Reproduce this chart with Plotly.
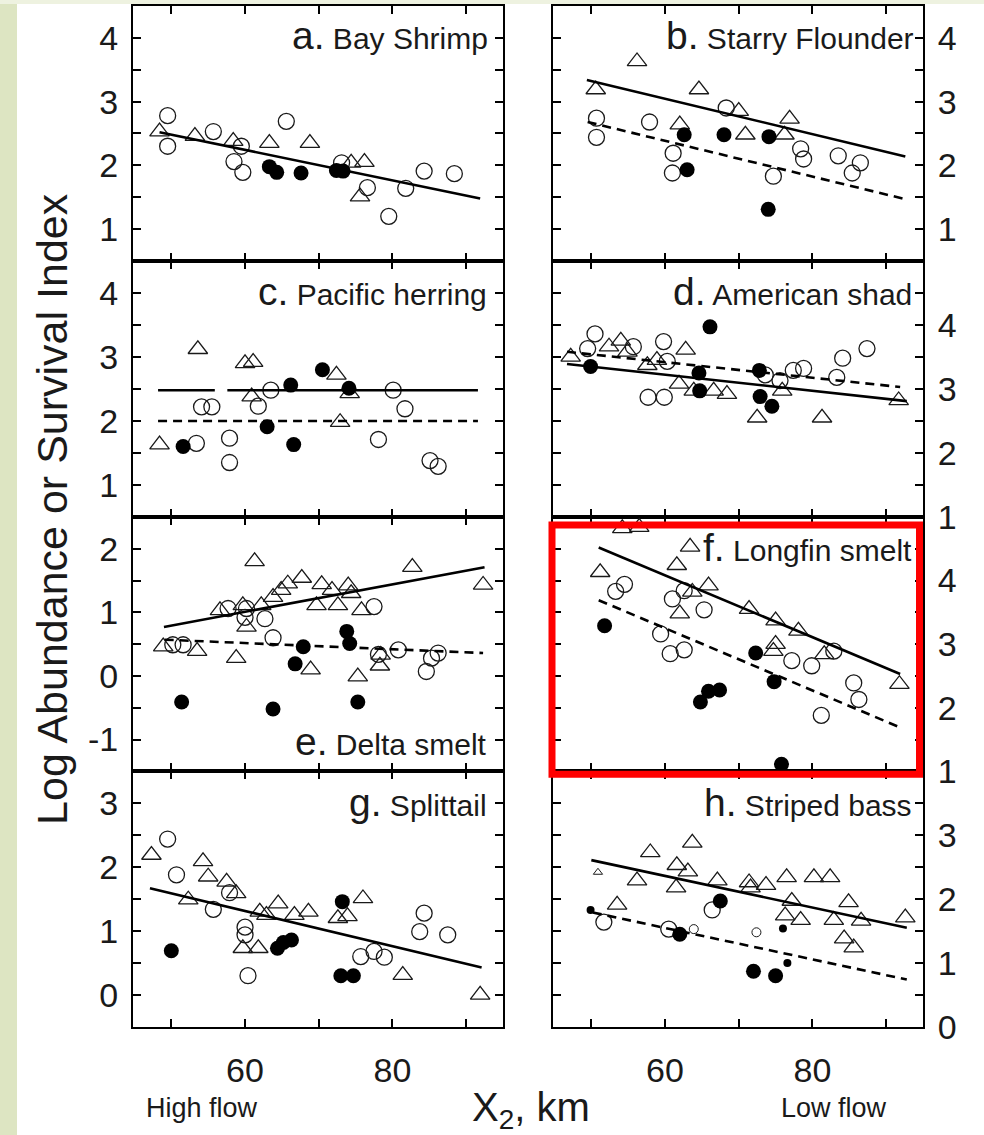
import plotly.graph_objects as go

W, H = 984, 1135          # reference frame (all positions below are reference pixels)
H_LAYOUT = 1156           # figure height so the photographed page maps onto the reference frame
FONT = "Liberation Sans, Arial, Helvetica, sans-serif"
INK = "#1a1a1a"

# ---------------- data (X2 km, log abundance / survival index) ----------------
# a. Bay Shrimp
a_open_x = [49.5, 49.5, 55.7, 58.5, 59.5, 59.7, 65.6, 73.1, 76.6, 79.5, 81.8, 84.3, 88.4]
a_open_y = [2.78, 2.30, 2.53, 2.06, 2.30, 1.89, 2.69, 2.04, 1.65, 1.20, 1.64, 1.91, 1.87]
a_tri_x = [48.4, 53.2, 58.4, 63.3, 68.8, 74.4, 76.2, 75.6]
a_tri_y = [2.53, 2.46, 2.38, 2.35, 2.35, 2.04, 2.05, 1.51]
a_fill_x = [63.3, 64.3, 67.6, 72.4, 73.3]
a_fill_y = [1.98, 1.89, 1.88, 1.92, 1.91]
a_solid_x = [48.4, 91.9]
a_solid_y = [2.52, 1.48]

# b. Starry Flounder
b_open_x = [50.7, 50.7, 57.9, 61.1, 61.0, 68.3, 74.7, 78.4, 78.8, 83.5, 85.4, 86.5]
b_open_y = [2.74, 2.44, 2.68, 2.19, 1.88, 2.90, 1.83, 2.26, 2.10, 2.15, 1.88, 2.04]
b_tri_x = [50.6, 56.2, 64.6, 62.0, 70.0, 70.9, 76.2, 76.9]
b_tri_y = [3.19, 3.63, 3.19, 2.64, 2.85, 2.48, 2.48, 2.73]
b_fill_x = [62.6, 63.0, 68.0, 74.1, 74.0]
b_fill_y = [2.48, 1.93, 2.48, 2.45, 1.31]
b_solid_x = [49.4, 92.6]
b_solid_y = [3.34, 2.14]
b_dash_x = [49.5, 92.6]
b_dash_y = [2.68, 1.47]

# c. Pacific herring
c_open_x = [54.1, 55.5, 53.4, 57.9, 57.9, 61.8, 63.5, 80.1, 81.7, 78.1, 85.1, 86.2]
c_open_y = [2.22, 2.22, 1.65, 1.73, 1.35, 2.23, 2.48, 2.48, 2.19, 1.71, 1.38, 1.29]
c_tri_x = [48.4, 53.6, 60.0, 61.1, 60.9, 72.4, 74.2, 72.9]
c_tri_y = [1.63, 3.12, 2.90, 2.92, 2.38, 2.72, 2.43, 1.98]
c_fill_x = [51.6, 63.0, 66.2, 66.6, 70.5, 74.1]
c_fill_y = [1.60, 1.91, 2.56, 1.63, 2.80, 2.51]
c_solid_x = [48.2, 55.9, None, 57.6, 91.6]
c_solid_y = [2.48, 2.48, None, 2.48, 2.48]
c_dash_x = [48.2, 91.6]
c_dash_y = [2.0, 2.0]

# d. American shad
d_open_x = [50.5, 49.5, 55.7, 59.8, 60.3, 57.7, 59.9, 77.4, 78.8, 73.6, 75.6, 83.3, 84.1, 87.4]
d_open_y = [3.86, 3.63, 3.66, 3.74, 3.43, 2.87, 2.87, 3.29, 3.32, 3.22, 3.13, 3.18, 3.48, 3.63]
d_tri_x = [47.2, 52.4, 54.0, 54.9, 57.6, 58.9, 62.8, 61.9, 63.9, 66.6, 68.4, 72.5, 75.9, 81.3, 91.7]
d_tri_y = [3.50, 3.66, 3.75, 3.58, 3.37, 3.45, 3.61, 3.08, 2.97, 2.97, 2.92, 2.55, 2.97, 2.55, 2.82]
d_fill_x = [49.9, 66.1, 64.6, 64.7, 72.8, 72.9, 74.5]
d_fill_y = [3.35, 3.97, 3.25, 2.97, 3.29, 2.88, 2.73]
d_solid_x = [46.7, 92.8]
d_solid_y = [3.39, 2.81]
d_dash_x = [46.7, 91.9]
d_dash_y = [3.58, 3.03]

# e. Delta smelt
e_open_x = [50.2, 51.6, 57.7, 60.2, 60.0, 62.7, 63.8, 77.5, 78.1, 80.8, 84.6, 85.3, 86.2]
e_open_y = [0.49, 0.49, 1.06, 1.06, 0.92, 0.90, 0.60, 1.09, 0.34, 0.41, 0.07, 0.28, 0.36]
e_tri_x = [48.9, 53.5, 56.6, 59.7, 60.2, 61.3, 62.2, 63.8, 64.9, 65.8, 67.7, 70.4, 69.7,
           71.8, 72.6, 74.0, 74.4, 75.8, 58.8, 68.9, 75.3, 78.3, 78.4, 82.7, 92.3]
e_tri_y = [0.46, 0.39, 1.03, 1.11, 0.77, 1.80, 1.11, 1.24, 1.35, 1.45, 1.54, 1.44, 1.11,
           1.35, 1.11, 1.42, 1.30, 1.03, 0.28, 0.10, -0.01, 0.16, 0.33, 1.71, 1.43]
e_fill_x = [51.4, 63.8, 66.8, 67.9, 73.8, 74.2, 75.3]
e_fill_y = [-0.41, -0.52, 0.19, 0.46, 0.70, 0.51, -0.41]
e_solid_x = [49.0, 92.5]
e_solid_y = [0.77, 1.71]
e_dash_x = [49.1, 92.3]
e_dash_y = [0.57, 0.36]

# f. Longfin smelt
f_open_x = [53.3, 54.5, 61.0, 62.6, 65.3, 59.4, 60.7, 62.6, 77.2, 79.9, 82.9, 85.6, 86.3, 81.2]
f_open_y = [3.83, 3.94, 3.71, 3.84, 3.54, 3.16, 2.85, 2.91, 2.74, 2.66, 2.89, 2.39, 2.13, 1.88]
f_tri_x = [51.2, 54.2, 56.5, 63.4, 61.6, 63.7, 65.9, 62.0, 71.4, 75.0, 78.1, 75.0, 74.7, 81.6, 91.8]
f_tri_y = [4.13, 4.82, 4.84, 4.53, 4.24, 3.82, 3.92, 3.48, 3.55, 3.37, 3.21, 3.00, 2.89, 2.84, 2.37]
f_fill_x = [51.8, 64.8, 65.9, 67.4, 72.3, 74.8, 75.8]
f_fill_y = [3.29, 2.09, 2.26, 2.28, 2.86, 2.41, 1.11]
f_solid_x = [51.0, 91.9]
f_solid_y = [4.52, 2.53]
f_dash_x = [51.0, 91.9]
f_dash_y = [3.69, 1.69]

# g. Splittail
g_open_x = [49.5, 50.7, 55.7, 57.9, 60.0, 60.0, 60.4, 75.7, 77.5, 78.9, 83.7, 84.3, 87.5]
g_open_y = [2.44, 1.88, 1.34, 1.60, 1.06, 0.94, 0.30, 0.60, 0.68, 0.59, 0.99, 1.28, 0.94]
g_tri_x = [47.3, 54.3, 55.0, 57.5, 58.8, 52.3, 59.7, 61.8, 62.0, 62.9, 64.5, 66.7, 68.6,
           72.6, 73.9, 76.0, 81.4, 91.9]
g_tri_y = [2.19, 2.09, 1.85, 1.77, 1.59, 1.49, 0.73, 0.73, 1.30, 1.25, 1.43, 1.25, 1.30,
           1.20, 1.23, 1.51, 0.31, 0.00]
g_fill_x = [50.0, 64.4, 65.2, 66.3, 73.2, 73.0, 74.7]
g_fill_y = [0.69, 0.73, 0.82, 0.86, 1.46, 0.30, 0.30]
g_solid_x = [47.1, 92.1]
g_solid_y = [1.67, 0.43]

# h. Striped bass
h_open_x = [51.7, 60.5, 66.4]
h_open_y = [1.64, 1.53, 1.83]
h_small_open_x = [63.9, 72.4]
h_small_open_y = [1.53, 1.48]
h_tri_x = [53.5, 56.2, 58.0, 63.7, 61.6, 63.1, 61.5, 67.1, 71.4, 71.6, 73.7, 76.5, 77.2,
           76.3, 78.4, 80.2, 82.4, 84.9, 82.9, 84.3, 85.6, 86.6, 92.6]
h_tri_y = [1.91, 2.29, 2.73, 2.88, 2.53, 2.43, 2.18, 2.29, 2.26, 2.18, 2.22, 2.34, 1.97,
           1.74, 1.67, 2.34, 2.34, 1.95, 1.67, 1.38, 1.24, 1.66, 1.71]
h_small_tri_x = [50.9]
h_small_tri_y = [2.42]
h_fill_x = [62.0, 67.5, 72.0, 75.0]
h_fill_y = [1.45, 1.97, 0.87, 0.80]
h_small_fill_x = [49.9, 76.0, 76.6]
h_small_fill_y = [1.83, 1.54, 1.00]
h_solid_x = [50.0, 92.8]
h_solid_y = [2.61, 1.55]
h_dash_x = [50.2, 92.8]
h_dash_y = [1.79, 0.74]

panel_names = ["Bay Shrimp", "Starry Flounder", "Pacific herring", "American shad",
               "Delta smelt", "Longfin smelt", "Splittail", "Striped bass"]
panel_letters = ["a.", "b.", "c.", "d.", "e.", "f.", "g.", "h."]
y_ranges = [[0.5, 4.5], [0.5, 4.5], [0.5, 4.5], [1, 5],
            [-1.5, 2.5], [1, 5], [-0.5, 3.5], [0, 4]]
x_range = [44.8, 95.0]
x_tick_vals = [50, 60, 70, 80, 90]
x_tick_text = ["", "60", "", "80", ""]

# ---------------- layout helpers ----------------
def px_x(p):
    return p / W

def px_y(p):
    return 1 - p / H

col_px = [(133, 503), (553, 923)]
row_px = [(6, 260.5), (260.5, 516), (516, 770), (770, 1025)]

fig = go.Figure()

data = {
    "a": dict(open=(a_open_x, a_open_y), tri=(a_tri_x, a_tri_y), fill=(a_fill_x, a_fill_y),
              solid=(a_solid_x, a_solid_y)),
    "b": dict(open=(b_open_x, b_open_y), tri=(b_tri_x, b_tri_y), fill=(b_fill_x, b_fill_y),
              solid=(b_solid_x, b_solid_y), dash=(b_dash_x, b_dash_y)),
    "c": dict(open=(c_open_x, c_open_y), tri=(c_tri_x, c_tri_y), fill=(c_fill_x, c_fill_y),
              solid=(c_solid_x, c_solid_y), dash=(c_dash_x, c_dash_y)),
    "d": dict(open=(d_open_x, d_open_y), tri=(d_tri_x, d_tri_y), fill=(d_fill_x, d_fill_y),
              solid=(d_solid_x, d_solid_y), dash=(d_dash_x, d_dash_y)),
    "e": dict(open=(e_open_x, e_open_y), tri=(e_tri_x, e_tri_y), fill=(e_fill_x, e_fill_y),
              solid=(e_solid_x, e_solid_y), dash=(e_dash_x, e_dash_y)),
    "f": dict(open=(f_open_x, f_open_y), tri=(f_tri_x, f_tri_y), fill=(f_fill_x, f_fill_y),
              solid=(f_solid_x, f_solid_y), dash=(f_dash_x, f_dash_y)),
    "g": dict(open=(g_open_x, g_open_y), tri=(g_tri_x, g_tri_y), fill=(g_fill_x, g_fill_y),
              solid=(g_solid_x, g_solid_y)),
    "h": dict(open=(h_open_x, h_open_y), tri=(h_tri_x, h_tri_y), fill=(h_fill_x, h_fill_y),
              solid=(h_solid_x, h_solid_y), dash=(h_dash_x, h_dash_y),
              small_open=(h_small_open_x, h_small_open_y),
              small_tri=(h_small_tri_x, h_small_tri_y),
              small_fill=(h_small_fill_x, h_small_fill_y)),
}

keys = ["a", "b", "c", "d", "e", "f", "g", "h"]
annotations = []

for i, k in enumerate(keys):
    n = i + 1
    row, col = i // 2, i % 2
    xa = "x" if n == 1 else f"x{n}"
    ya = "y" if n == 1 else f"y{n}"
    d = data[k]

    def add(xy, **kw):
        fig.add_trace(go.Scatter(x=xy[0], y=xy[1], xaxis=xa, yaxis=ya,
                                 showlegend=False, hoverinfo="skip", **kw))

    add(d["tri"], mode="markers",
        marker=dict(symbol="triangle-up-open", size=17, color=INK, line=dict(width=1.3, color=INK)))
    add(d["open"], mode="markers",
        marker=dict(symbol="circle-open", size=16, color=INK, line=dict(width=1.3, color=INK)))
    if "small_tri" in d:
        add(d["small_tri"], mode="markers",
            marker=dict(symbol="triangle-up-open", size=8, color=INK, line=dict(width=1, color=INK)))
    if "small_open" in d:
        add(d["small_open"], mode="markers",
            marker=dict(symbol="circle-open", size=9, color=INK, line=dict(width=1, color=INK)))
    add(d["fill"], mode="markers",
        marker=dict(symbol="circle", size=15, color="black", line=dict(width=0)))
    if "small_fill" in d:
        add(d["small_fill"], mode="markers",
            marker=dict(symbol="circle", size=8, color="black", line=dict(width=0)))
    if "dash" in d:
        add(d["dash"], mode="lines", line=dict(color="black", width=2.6, dash="9px,6px"))
    add(d["solid"], mode="lines", line=dict(color="black", width=2.6), connectgaps=False)

    yr = y_ranges[i]
    lo, hi = yr
    vals, txt = [], []
    v = lo
    while v <= hi + 1e-9:
        vals.append(v)
        if abs(v - round(v)) < 1e-9 and v < hi - 1e-9:
            txt.append(str(int(round(v))))
        else:
            txt.append("")
        v += 0.5

    x0p, x1p = col_px[col]
    y0p, y1p = row_px[row]
    bottom = row == 3

    axis_common = dict(showline=True, linecolor="black", linewidth=2, mirror="ticks",
                       ticks="inside", ticklen=8, tickwidth=1.5, tickcolor="black",
                       showgrid=False, zeroline=False, fixedrange=True)

    fig.layout[("xaxis" if n == 1 else f"xaxis{n}")] = dict(
        domain=[px_x(x0p), px_x(x1p)], anchor=ya, range=x_range,
        tickmode="array", tickvals=x_tick_vals,
        ticktext=x_tick_text if bottom else [""] * 5,
        showticklabels=bottom, tickfont=dict(family=FONT, size=34, color=INK),
        ticklabelstandoff=12, **axis_common)
    fig.layout[("yaxis" if n == 1 else f"yaxis{n}")] = dict(
        domain=[px_y(y1p), px_y(y0p)], anchor=xa, range=yr,
        side="left" if col == 0 else "right",
        tickmode="array", tickvals=vals, ticktext=txt,
        tickfont=dict(family=FONT, size=34, color=INK), ticklabelstandoff=6,
        **axis_common)

# panel labels
label_pos = {  # (right edge px, vertical centre px)
    "a": (490, 35), "b": (916, 35), "c": (489, 291), "d": (914, 291),
    "e": (489, 740), "f": (914, 547), "g": (489, 801), "h": (914, 801),
}
for i, k in enumerate(keys):
    xr, yc = label_pos[k]
    annotations.append(dict(
        x=px_x(xr), y=px_y(yc), xref="paper", yref="paper", xanchor="right", yanchor="middle",
        showarrow=False,
        text=f"<span style='font-size:39px'>{panel_letters[i]}</span> {panel_names[i]}",
        font=dict(family=FONT, size=30, color=INK)))

annotations.append(dict(
    x=px_x(52), y=px_y(508), xref="paper", yref="paper", xanchor="center", yanchor="middle",
    textangle=-90, showarrow=False, text="Log Abundance or Survival Index",
    font=dict(family=FONT, size=43, color=INK)))
annotations.append(dict(
    x=px_x(470), y=px_y(1108), xref="paper", yref="paper", xanchor="left", yanchor="middle",
    showarrow=False, text="X<sub>2</sub>, km",
    font=dict(family=FONT, size=40, color=INK)))
annotations.append(dict(
    x=px_x(144), y=px_y(1106), xref="paper", yref="paper", xanchor="left", yanchor="middle",
    showarrow=False, text="High flow", font=dict(family=FONT, size=27, color=INK)))
annotations.append(dict(
    x=px_x(779), y=px_y(1106), xref="paper", yref="paper", xanchor="left", yanchor="middle",
    showarrow=False, text="Low flow", font=dict(family=FONT, size=27, color=INK)))

shapes = [
    dict(type="rect", xref="paper", yref="paper", x0=0, x1=px_x(17), y0=0, y1=1,
         fillcolor="#dde5c2", line=dict(width=0), layer="below"),
    dict(type="rect", xref="paper", yref="paper", x0=0, x1=1, y0=px_y(4), y1=1,
         fillcolor="#eef2e0", line=dict(width=0), layer="below"),
    dict(type="rect", xref="paper", yref="paper", x0=px_x(552), x1=px_x(919.5),
         y0=px_y(773), y1=px_y(524), line=dict(color="#ff0000", width=7),
         fillcolor="rgba(0,0,0,0)", layer="above"),
]

fig.update_layout(
    width=W, height=H_LAYOUT, margin=dict(l=0, r=0, t=0, b=0),
    paper_bgcolor="white", plot_bgcolor="white",
    annotations=annotations, shapes=shapes,
    font=dict(family=FONT, color=INK),
)

fig.write_html("out.html")
